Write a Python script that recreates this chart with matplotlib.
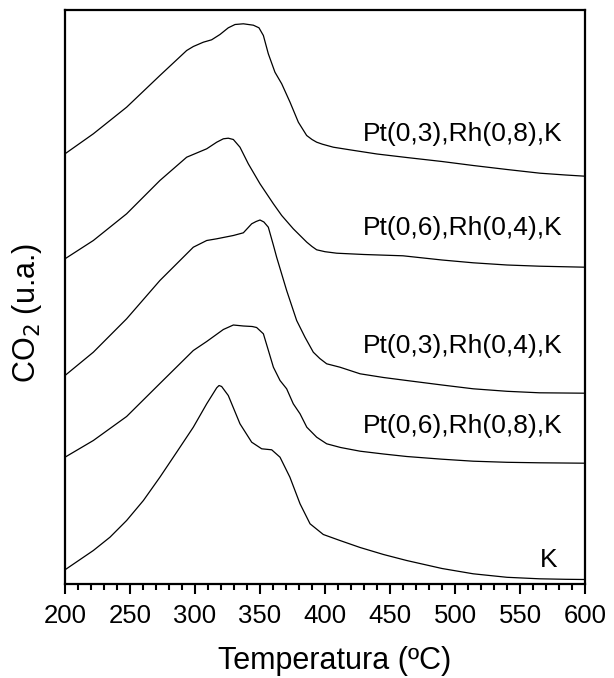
import matplotlib
matplotlib.use("Agg")
import matplotlib.pyplot as plt
from matplotlib.ticker import MultipleLocator

plt.rcParams['font.family'] = ['Liberation Sans', 'DejaVu Sans']

# CO2 TPD profiles (stacked, arbitrary units)
temp_pt03_rh08 = [200, 221.8, 247.4, 273, 293.6, 298.7, 306.4, 312.8, 319.2, 325.6, 330.8,
                  337.2, 344.9, 349.2, 352.6, 356.4, 361.5, 366.7, 373.1, 379.5, 385.9,
                  390, 393.6, 398, 406.4, 420, 440, 462.8, 490, 514, 540, 565.4, 585, 600]
co2_pt03_rh08 = [4.297, 4.497, 4.763, 5.08, 5.33, 5.37, 5.413, 5.437, 5.49, 5.557, 5.59,
                 5.597, 5.583, 5.557, 5.48, 5.297, 5.113, 4.997, 4.813, 4.613, 4.48,
                 4.44, 4.413, 4.393, 4.363, 4.335, 4.295, 4.26, 4.22, 4.18, 4.14, 4.103,
                 4.085, 4.073]

temp_pt06_rh04 = [200, 221.8, 247.4, 273, 293.6, 309, 316.7, 321.8, 325.6, 329.5, 334.6,
                  341, 350, 360.3, 366.7, 375.6, 386, 390, 393.6, 400, 409, 430, 460, 490,
                  514, 540, 565, 600]
co2_pt06_rh04 = [3.247, 3.43, 3.697, 4.03, 4.263, 4.347, 4.413, 4.447, 4.453, 4.44, 4.363,
                 4.197, 3.997, 3.797, 3.68, 3.547, 3.413, 3.37, 3.337, 3.318, 3.303, 3.29,
                 3.277, 3.235, 3.207, 3.185, 3.173, 3.163]

temp_pt03_rh04 = [200, 221.8, 247.4, 273, 298.7, 309, 316.7, 329.5, 337.2, 343.6, 347, 350,
                  353, 356.4, 360.3, 362.8, 370.5, 378.2, 384.6, 391, 396, 401.3, 411.5, 427,
                  445, 462.8, 490, 514, 540, 565, 600]
co2_pt03_rh04 = [2.08, 2.313, 2.647, 3.03, 3.363, 3.43, 3.447, 3.48, 3.507, 3.597, 3.62, 3.635,
                 3.615, 3.563, 3.383, 3.263, 2.93, 2.63, 2.463, 2.313, 2.25, 2.197, 2.163,
                 2.097, 2.06, 2.03, 1.985, 1.947, 1.922, 1.907, 1.903]

temp_pt06_rh08 = [200, 221.8, 247.4, 273, 298.7, 309, 321.8, 329.5, 337.2, 344, 347.4, 352.6,
                  356, 360.3, 365.4, 370.5, 375.6, 380.8, 386, 393.6, 401.3, 412, 427, 445,
                  462.8, 490, 514, 540, 565, 600]
co2_pt06_rh08 = [1.263, 1.43, 1.67, 2.0, 2.33, 2.42, 2.54, 2.585, 2.575, 2.57, 2.56, 2.497,
                 2.35, 2.163, 2.03, 1.947, 1.797, 1.697, 1.563, 1.463, 1.397, 1.36, 1.323,
                 1.295, 1.27, 1.243, 1.223, 1.212, 1.207, 1.203]

temp_k = [200, 221.8, 234.6, 247.4, 260.3, 273, 285.9, 298.7, 309, 316.7, 318.5, 320.5,
          325.6, 334.6, 343.6, 351.3, 359, 365.4, 373, 380.8, 388.5, 398.7, 411.5, 427,
          445, 462.8, 490, 514, 540, 565, 585, 600]
co2_k = [0.137, 0.33, 0.463, 0.63, 0.83, 1.063, 1.313, 1.563, 1.797, 1.957, 1.98, 1.97,
         1.88, 1.597, 1.413, 1.347, 1.337, 1.263, 1.063, 0.797, 0.597, 0.49, 0.43, 0.36,
         0.29, 0.23, 0.15, 0.097, 0.062, 0.047, 0.042, 0.04]

labels = ["Pt(0,3),Rh(0,8),K", "Pt(0,6),Rh(0,4),K", "Pt(0,3),Rh(0,4),K",
          "Pt(0,6),Rh(0,8),K", "K"]
label_x = [429, 429, 429, 429, 565.4]
label_y = [4.43, 3.48, 2.30, 1.50, 0.163]

temps = [temp_pt03_rh08, temp_pt06_rh04, temp_pt03_rh04, temp_pt06_rh08, temp_k]
signals = [co2_pt03_rh08, co2_pt06_rh04, co2_pt03_rh04, co2_pt06_rh08, co2_k]

fig = plt.figure(figsize=(6.14, 6.78), dpi=100)
ax = fig.add_axes([65 / 614, 1 - 583.5 / 678, 520 / 614, 573.5 / 678])

for t, s in zip(temps, signals):
    ax.plot(t, s, color='black', lw=0.9, solid_joinstyle='round')

for lab, x, y in zip(labels, label_x, label_y):
    ax.text(x, y, lab, fontsize=19, ha='left', va='baseline')

ax.set_xlim(200, 600)
ax.set_ylim(0, 5.735)
ax.xaxis.set_major_locator(MultipleLocator(50))
ax.xaxis.set_minor_locator(MultipleLocator(10))
ax.set_yticks([])
ax.tick_params(axis='x', which='major', direction='out', length=7, width=1.5,
               labelsize=18.5, pad=7.5)
ax.tick_params(axis='x', which='minor', direction='out', length=4, width=1.5)
for sp in ax.spines.values():
    sp.set_linewidth(1.6)

fig.text(335 / 614, 1 - 669.3 / 678, "Temperatura (ºC)", fontsize=22,
         ha='center', va='baseline')
fig.text(26.7 / 614, 1 - 313 / 678, "CO$_2$ (u.a.)", fontsize=22,
         rotation=90, ha='center', va='center')

fig.savefig("out.png", dpi=100)
